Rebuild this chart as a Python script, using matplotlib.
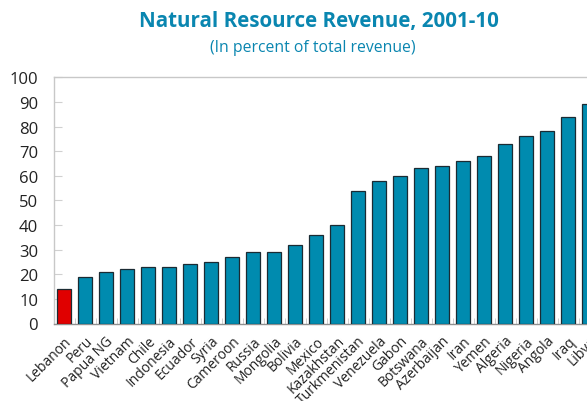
import matplotlib
matplotlib.use("Agg")
import matplotlib.pyplot as plt
import numpy as np

countries = ["Lebanon", "Peru", "Papua NG", "Vietnam", "Chile", "Indonesia", "Ecuador",
             "Syria", "Cameroon", "Russia", "Mongolia", "Bolivia", "Mexico", "Kazakhstan",
             "Turkmenistan", "Venezuela", "Gabon", "Botswana", "Azerbaijan", "Iran", "Yemen",
             "Algeria", "Nigeria", "Angola", "Iraq", "Libya"]
values = [14, 19, 21, 22, 23, 23, 24, 25, 27, 29, 29, 32, 36, 40,
          54, 58, 60, 63, 64, 66, 68, 73, 76, 78, 84, 89]
yticks = [0, 10, 20, 30, 40, 50, 60, 70, 80, 90, 100]

plt.rcParams['font.family'] = ['Open Sans', 'DejaVu Sans']

fig = plt.figure(figsize=(5.87, 4.02), dpi=100)
ax = fig.add_axes([53.5 / 587, 77.5 / 402, 546 / 587, 246.2 / 402])

x = np.arange(len(countries))
colors = ["#E00000" if c == "Lebanon" else "#008BAF" for c in countries]
ax.bar(x, values, width=0.67, color=colors, edgecolor="#1b2b33", linewidth=0.9, zorder=3)

ax.set_xlim(-0.5, len(countries) - 0.5)
ax.set_ylim(0, 100)
ax.set_yticks(yticks)
ax.set_yticklabels([str(v) for v in yticks], fontsize=12, color="#222222")
ax.set_xticks(x)
ax.set_xticklabels(countries, rotation=45, ha="right", rotation_mode="anchor",
                   fontsize=10, color="#222222")
ax.tick_params(axis="x", which="major", length=0, pad=7)
ax.set_xticks(x[:-1] + 0.5, minor=True)
ax.tick_params(axis="x", which="minor", direction="in", length=4, color="#c8c8c8")
ax.tick_params(axis="y", direction="in", length=6, color="#d0d0d0", pad=11)

for s in ["left", "top"]:
    ax.spines[s].set_color("#c8c8c8")
    ax.spines[s].set_linewidth(1)
ax.spines["right"].set_visible(False)
ax.spines["bottom"].set_color("#909090")
ax.spines["bottom"].set_linewidth(1)

fig.text(319 / 587, 1 - 21 / 402, "Natural Resource Revenue, 2001-10", ha="center", va="center",
         fontsize=14.8, fontweight="bold", color="#0A86B0")
fig.text(313 / 587, 1 - 48 / 402, "(In percent of total revenue)", ha="center", va="center",
         fontsize=11.3, color="#0A86B0")

fig.savefig("out.png", dpi=100)
